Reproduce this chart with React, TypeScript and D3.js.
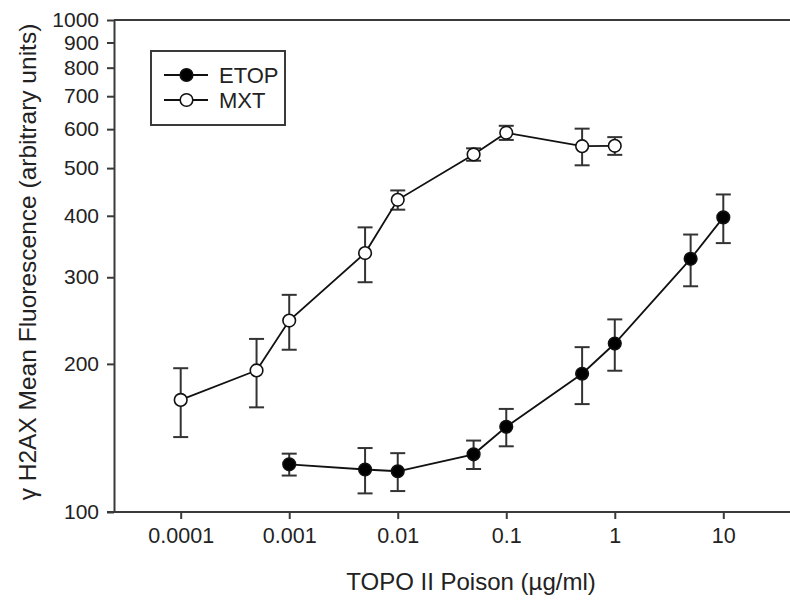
import React, { useEffect, useRef } from 'react';
import * as d3 from 'd3';

// doses in ug/ml, values in arbitrary units
const etopDose = [0.001, 0.005, 0.01, 0.05, 0.1, 0.5, 1, 5, 10];
const etopMean = [125, 122, 121, 131, 149, 191, 220, 327, 397];
const etopErr = [6.4, 12.9, 10.7, 8.7, 13, 25.3, 26.3, 39.4, 45];

const mxtDose = [0.0001, 0.0005, 0.001, 0.005, 0.01, 0.05, 0.1, 0.5, 1];
const mxtMean = [169, 194, 245, 336, 431, 533, 590, 554, 555];
const mxtErr = [27, 30.8, 31.3, 42.9, 19.4, 15.5, 19.5, 47.4, 23];

const xTicks = [0.0001, 0.001, 0.01, 0.1, 1, 10];
const xTickLabels = ['0.0001', '0.001', '0.01', '0.1', '1', '10'];
const yTicks = [100, 200, 300, 400, 500, 600, 700, 800, 900, 1000];

const seriesNames = ['ETOP', 'MXT'];

const App = () => {
  const svgRef = useRef(null);

  useEffect(() => {
    const width = 790;
    const height = 604;
    const axisLeft = 114;
    const axisRight = 790;
    const plotTop = 20;
    const plotBottom = 512;
    const font = '"Liberation Sans", Arial, sans-serif';
    const axisColor = '#3a3a3a';
    const textColor = '#222';

    const x = d3.scaleLog()
      .domain([0.0001, 10])
      .range([180.7, 723.3]);

    const y = d3.scaleLog()
      .domain([100, 1000])
      .range([plotBottom, plotTop]);

    const svg = d3.select(svgRef.current)
      .attr('width', width)
      .attr('height', height)
      .attr('viewBox', [0, 0, width, height]);

    svg.selectAll('*').remove();

    svg.append('rect')
      .attr('width', width)
      .attr('height', height)
      .attr('fill', '#fff');

    // frame: top and bottom lines run to the right edge
    svg.append('line')
      .attr('x1', axisLeft).attr('x2', axisRight)
      .attr('y1', plotTop).attr('y2', plotTop)
      .attr('stroke', axisColor).attr('stroke-width', 2);

    svg.append('line')
      .attr('x1', axisLeft - 7).attr('x2', axisRight)
      .attr('y1', plotBottom).attr('y2', plotBottom)
      .attr('stroke', axisColor).attr('stroke-width', 2);

    // x axis
    svg.append('g')
      .attr('transform', `translate(0,${plotBottom})`)
      .call(d3.axisBottom(x)
        .tickValues(xTicks)
        .tickFormat((d, i) => xTickLabels[i])
        .tickSize(7)
        .tickPadding(9))
      .call(g => g.select('.domain').remove())
      .call(g => g.selectAll('line').attr('stroke', axisColor).attr('stroke-width', 2))
      .call(g => g.selectAll('text')
        .attr('font-family', font)
        .attr('font-size', 21.5)
        .attr('fill', textColor));

    // y axis
    svg.append('g')
      .attr('transform', `translate(${axisLeft},0)`)
      .call(d3.axisLeft(y)
        .tickValues(yTicks)
        .tickFormat(d3.format('d'))
        .tickSize(7)
        .tickPadding(8)
        .tickSizeOuter(0))
      .call(g => g.select('.domain').attr('stroke', axisColor).attr('stroke-width', 2))
      .call(g => g.selectAll('line').attr('stroke', axisColor).attr('stroke-width', 2))
      .call(g => g.selectAll('text')
        .attr('font-family', font)
        .attr('font-size', 21)
        .attr('fill', textColor));

    // axis titles
    svg.append('text')
      .attr('x', 471)
      .attr('y', 590)
      .attr('text-anchor', 'middle')
      .attr('font-family', font)
      .attr('font-size', 24)
      .attr('fill', textColor)
      .text('TOPO II Poison (\u00b5g/ml)');

    svg.append('text')
      .attr('transform', 'translate(36,262) rotate(-90)')
      .attr('text-anchor', 'middle')
      .attr('font-family', font)
      .attr('font-size', 24.5)
      .attr('fill', textColor)
      .text('\u03b3 H2AX Mean Fluorescence (arbitrary units)');

    const series = [
      { name: seriesNames[0], dose: etopDose, mean: etopMean, err: etopErr, fill: '#000' },
      { name: seriesNames[1], dose: mxtDose, mean: mxtMean, err: mxtErr, fill: '#fff' },
    ];

    const line = d3.line()
      .x(d => x(d[0]))
      .y(d => y(d[1]));

    series.forEach(s => {
      const pts = s.dose.map((d, i) => [d, s.mean[i], s.err[i]]);
      const g = svg.append('g');

      // error bars
      const eb = g.selectAll('g.eb')
        .data(pts)
        .enter()
        .append('g')
        .attr('stroke', '#333')
        .attr('stroke-width', 2);
      eb.append('line')
        .attr('x1', d => x(d[0])).attr('x2', d => x(d[0]))
        .attr('y1', d => y(d[1] + d[2])).attr('y2', d => y(d[1] - d[2]));
      eb.append('line')
        .attr('x1', d => x(d[0]) - 7.5).attr('x2', d => x(d[0]) + 7.5)
        .attr('y1', d => y(d[1] + d[2])).attr('y2', d => y(d[1] + d[2]));
      eb.append('line')
        .attr('x1', d => x(d[0]) - 7.5).attr('x2', d => x(d[0]) + 7.5)
        .attr('y1', d => y(d[1] - d[2])).attr('y2', d => y(d[1] - d[2]));

      g.append('path')
        .datum(pts)
        .attr('fill', 'none')
        .attr('stroke', '#111')
        .attr('stroke-width', 1.8)
        .attr('d', line);

      g.selectAll('circle')
        .data(pts)
        .enter()
        .append('circle')
        .attr('cx', d => x(d[0]))
        .attr('cy', d => y(d[1]))
        .attr('r', 6.3)
        .attr('fill', s.fill)
        .attr('stroke', '#111')
        .attr('stroke-width', 1.6);
    });

    // legend
    const legend = svg.append('g');
    legend.append('rect')
      .attr('x', 151).attr('y', 51)
      .attr('width', 134).attr('height', 74)
      .attr('fill', '#fff')
      .attr('stroke', axisColor)
      .attr('stroke-width', 2);

    series.forEach((s, i) => {
      const ly = 75 + i * 25;
      legend.append('line')
        .attr('x1', 164).attr('x2', 208)
        .attr('y1', ly).attr('y2', ly)
        .attr('stroke', '#111').attr('stroke-width', 1.8);
      legend.append('circle')
        .attr('cx', 186.5).attr('cy', ly)
        .attr('r', 6.3)
        .attr('fill', s.fill)
        .attr('stroke', '#111')
        .attr('stroke-width', 1.6);
      legend.append('text')
        .attr('x', 219)
        .attr('y', ly)
        .attr('dy', '0.36em')
        .attr('font-family', font)
        .attr('font-size', 22)
        .attr('fill', textColor)
        .text(s.name);
    });
  }, []);

  return (
    <div style={{ position: 'absolute', left: 0, top: 0 }}>
      <svg ref={svgRef} style={{ display: 'block' }}></svg>
    </div>
  );
};

export default App;
